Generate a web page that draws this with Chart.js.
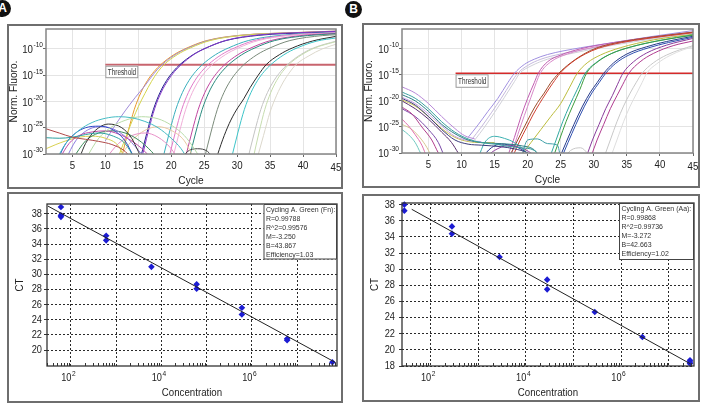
<!DOCTYPE html>
<html><head><meta charset="utf-8">
<script src="https://cdn.jsdelivr.net/npm/chart.js@4.4.1/dist/chart.umd.min.js"></script>
<style>
html,body{margin:0;padding:0;background:#fff;width:705px;height:405px;overflow:hidden;position:relative;}
.box{position:absolute;border:2px solid #6e6e6e;box-sizing:border-box;}
canvas{position:absolute;}
.tag{position:absolute;width:17px;height:17px;border-radius:50%;background:#111;color:#fff;font:bold 12px "Liberation Sans",Arial,sans-serif;text-align:center;line-height:17px;}
</style></head><body>
<div class="tag" style="left:-6px;top:0px">A</div>
<div class="tag" style="left:345px;top:1px">B</div>
<script>
// ================= DATA =================
// Amplification plots: points are [cycle, log10(Norm. Fluoro.)]
const cycleTicks = [5,10,15,20,25,30,35,40,45];
const fluoTicks = [-30,-25,-20,-15,-10];
const thresholdA = [10, 45, -13];     // start cycle, end cycle, log level
const thresholdB = [9.1, 45, -14.7];

// Panel A – rising curves
const A_orange = [[12.4,-31],[13.4,-26],[14.4,-21.5],[15.4,-18.3],[16.4,-16],[17.4,-14.3],[18.4,-13],[20.4,-11.1],[22.4,-9.8],[25.4,-8.4],[30.4,-7.4],[38.4,-6.9],[45,-6.6]];
const A_lavender = [[10,-27.5],[11.5,-24.5],[13,-21.8],[14.5,-19.3],[16,-17],[17.3,-14.8],[18.6,-13],[20.6,-11.1],[22.6,-9.8],[25.6,-8.4],[30.6,-7.4],[38.6,-6.9],[45,-6.6]];
const A_yellow = [[12,-30.5],[13.5,-25.5],[15,-21],[16,-18.5],[17,-16.2],[18,-14.3],[18.9,-13],[20.9,-11.1],[22.9,-9.8],[25.9,-8.4],[30.9,-7.4],[38.9,-6.9],[45,-6.7]];
const A_navy = [[15.3,-31],[16.3,-26],[17.3,-21.5],[18.3,-18.3],[19.3,-16],[20.3,-14.3],[21.3,-13],[23.3,-11.1],[25.3,-9.8],[28.3,-8.4],[33.3,-7.4],[41.3,-6.9],[45,-6.75]];
const A_violet = [[15.5,-31],[16.5,-25.8],[17.5,-21.3],[18.5,-18.2],[19.5,-16],[20.5,-14.3],[21.5,-13],[23.5,-11],[25.5,-9.7],[28.5,-8.3],[33.5,-7.3],[41.5,-6.8],[45,-6.65]];
const A_teal = [[18.7,-31],[19.7,-26],[20.7,-21.5],[21.7,-18.3],[22.7,-16],[23.7,-14.3],[24.7,-13],[26.7,-11.1],[28.7,-9.8],[31.7,-8.4],[36.7,-7.4],[45,-6.85]];
const A_pink = [[19.6,-31],[20.6,-26],[21.6,-21.5],[22.6,-18.3],[23.6,-16],[24.6,-14.3],[25.6,-13],[27.6,-11.1],[29.6,-9.8],[32.6,-8.4],[37.6,-7.4],[45,-6.9]];
const A_lightPink = [[20.2,-31],[21.2,-26],[22.2,-21.5],[23.2,-18.3],[24.2,-16],[25.2,-14.3],[26.2,-13],[28.2,-11.1],[30.2,-9.8],[33.2,-8.4],[38.2,-7.4],[45,-6.95]];
const A_magenta = [[22.1,-31],[23.1,-26],[24.1,-21.5],[25.1,-18.3],[26.1,-16],[27.1,-14.3],[28.1,-13],[30.1,-11.1],[32.1,-9.8],[35.1,-8.4],[40.1,-7.4],[45,-7.05]];
const A_darkTeal = [[22.7,-31],[23.7,-26],[24.7,-21.5],[25.7,-18.3],[26.7,-16],[27.7,-14.3],[28.7,-13],[30.7,-11.1],[32.7,-9.8],[35.7,-8.4],[40.7,-7.45],[45,-7.1]];
const A_gray = [[25,-31],[26,-26],[27,-21.5],[28,-18.3],[29,-16],[30,-14.3],[31,-13],[33,-11.1],[35,-9.8],[38,-8.4],[43,-7.45],[45,-7.3]];
const A_black = [[26.8,-31],[27.8,-27.3],[28.8,-24.2],[29.8,-21.8],[31,-19.5],[32,-17.3],[33.2,-15],[34.4,-13],[36.4,-11.1],[38.4,-9.8],[41.4,-8.5],[45,-7.6]];
const A_cyan = [[29.1,-31],[30.1,-26],[31.1,-21.5],[32.1,-18.3],[33.1,-16],[34.1,-14.3],[35.1,-13],[37.1,-11.1],[39.1,-9.8],[42.1,-8.5],[45,-7.9]];
const A_lightGray = [[31.6,-31],[32.6,-26],[33.6,-21.5],[34.6,-18.3],[35.6,-16],[36.6,-14.3],[37.6,-13],[39.6,-11.1],[41.6,-9.8],[45,-8.5]];
const A_lightGreen = [[32.4,-31],[33.3,-26],[34.2,-21.5],[35.1,-18.3],[36,-16],[36.9,-14.3],[37.8,-13],[39.8,-11.1],[41.8,-9.8],[45,-8.6]];
const A_pale = [[33,-31],[34,-26.5],[35,-22],[36,-18.8],[37,-16.3],[38,-14.4],[38.9,-13],[40.9,-11.3],[42.9,-10],[45,-9.1]];
// Panel A – baseline humps
const A_hRed = [[1,-25.2],[3,-26],[5,-26.8],[7,-27.2],[9,-27.6],[11,-28.2],[13,-29.5],[14,-31]];
const A_hTeal = [[1,-26.9],[3,-27],[5,-26.8],[7,-26.3],[9,-26],[11,-26.5],[13,-28],[14.5,-31]];
const A_hCyan = [[2.6,-31],[4,-28],[6,-25.5],[8,-24],[10,-23.2],[12,-22.9],[14,-23.1],[16,-23.8],[18,-25],[20,-27],[21.5,-29],[22.5,-31]];
const A_hLightGreen = [[7,-31],[9,-27],[11,-24.8],[13,-23.6],[15.5,-22.9],[18,-23.3],[20,-24.5],[22,-26.5],[23.5,-29],[24.5,-31]];
const A_hBlue = [[2.8,-31],[4,-28],[5.5,-26],[7,-25],[9,-24.7],[11,-25.3],[13,-27.5],[14.5,-31]];
const A_hBlack = [[6,-31],[7,-28],[8.5,-25.5],[10.5,-24.3],[12.5,-25],[14,-27],[15,-29.5],[15.6,-31]];
const A_hMagenta = [[3,-31],[4.5,-28],[6,-26.5],[8,-25.8],[10,-25.6],[12,-26.2],[14,-27.5],[16,-29.5],[17,-31]];
const A_hLilac = [[4,-31],[5.5,-27.5],[7.5,-25.3],[9.5,-24.8],[11.5,-25.4],[13.5,-27.2],[15.5,-30],[16.2,-31]];
const A_hGreen = [[5,-31],[7,-27.5],[9,-26],[11,-25.6],[13,-26],[15,-27.3],[17,-29.5],[18,-31]];
const A_hYellow = [[1,-29],[2.5,-28.2],[4,-27.5],[6,-26.8],[8,-26.6],[10,-27],[12,-28.5],[13,-31]];
const A_hPink = [[10,-31],[12,-28],[14,-26.5],[16,-26],[18,-26.8],[20,-29],[21,-31]];
const A_hSand = [[12,-31],[14,-27.5],[16,-25.5],[18,-24.8],[20,-25.5],[22,-27.5],[23.5,-31]];
const A_hDark = [[21.5,-31],[22.5,-29.5],[24,-29],[25.5,-29.5],[26.5,-31]];

// Panel B – descending starts and baseline humps
const B_dLilac = [[1,-17.3],[3,-18.5],[5,-20.5],[7,-23],[9,-25.3],[10.5,-26.7],[12,-27.3]];
const B_dTeal = [[1,-18.3],[3,-19.5],[5,-21.5],[7,-24],[9,-26],[11,-27.3],[13,-28],[15,-28.3],[17,-28.7],[19,-29],[21,-29.5],[22,-31]];
const B_dDarkTeal = [[1,-18.8],[3,-20],[5,-22],[7,-24.5],[9,-26.3],[11,-27.5],[13,-28],[16,-28.2],[19,-28.6],[21,-29.4],[22,-31]];
const B_dLavender = [[1,-19.3],[3,-20.5],[5,-22.5],[7,-24.8],[9,-26.8],[11,-27.6],[13,-27.8]];
const B_dNavy = [[1,-19.5],[3,-20.8],[5,-23],[7,-25.5],[9,-27.5],[11,-28.3],[13,-28.5],[16,-28.8],[18,-29.2],[20,-30],[21,-31]];
const B_dYellow = [[1,-19.8],[3,-21],[5,-23],[7,-25.3],[9,-27],[11,-27.8],[13,-28],[15,-28]];
const B_dPlum = [[1,-20],[3,-21.5],[5,-23.5],[7,-26],[8.5,-28],[9.5,-30],[10,-31]];
const B_dMagenta = [[1,-21.2],[2.5,-22.5],[4,-25],[5.5,-27.5],[6.5,-30],[7,-31]];
const B_dPurple = [[1,-21.5],[3,-23],[5,-25.5],[6.5,-28],[7.5,-31]];
const B_dPink = [[1,-23.5],[2,-24.8],[3,-26.5],[4,-28.5],[4.8,-31]];
const B_dSand = [[1,-24.5],[2.5,-25.5],[4,-27.5],[5,-29.5],[5.5,-31]];
const B_dMint = [[1,-25.5],[2,-26.5],[3,-28],[3.8,-30],[4.2,-31]];
const B_hTeal = [[12.5,-31],[13.5,-28],[15,-26.8],[16.5,-27.2],[18,-28],[19.5,-29.5],[20.5,-31]];
const B_hPurple = [[13.5,-31],[15,-29.5],[17,-28.6],[19,-29],[20.5,-30],[21.5,-31]];
const B_hNavy = [[13,-31],[14.5,-29],[16,-28.3],[18,-28.7],[20,-30],[21,-31]];
const B_hTealDash = [[19,-31],[20,-27.5],[21.5,-27.3],[23,-28.2],[24.5,-28.5],[25,-31]];
const B_hGray = [[25.5,-31],[26.5,-29.5],[28,-29],[29,-30],[29.5,-31]];
// Panel B – rising curves
const B_lavender = [[11,-27],[12.5,-24.6],[14,-22],[15.5,-19.5],[17,-16.5],[18,-14.7],[19.5,-13],[21,-12],[23,-11.1],[28,-9.8],[33,-8.8],[39,-7.6],[45,-6.5]];
const B_lilacGray = [[11.5,-27.5],[13,-25],[14.5,-22.3],[16,-19.5],[17.5,-16.5],[18.5,-14.7],[20,-13.2],[22,-12],[25,-11],[30,-9.8],[36,-8.5],[45,-6.9]];
const B_lightGray1 = [[12,-27.5],[13.5,-25],[15,-22.2],[16.5,-19.3],[18,-16.3],[18.8,-14.7],[20.5,-13.3],[23,-12],[27,-10.8],[33,-9.3],[45,-7.0]];
const B_magenta = [[17,-30.5],[18,-27],[19,-23],[20,-19.5],[21,-16.5],[21.6,-14.7],[23,-12.5],[25,-11.2],[28,-10],[33,-8.8],[39,-7.7],[45,-6.8]];
const B_pink = [[17.5,-30.5],[18.5,-26.5],[19.5,-22.8],[20.5,-19.3],[21.3,-16.5],[21.9,-14.7],[23.5,-12.5],[26,-11],[30,-9.7],[36,-8.3],[45,-6.9]];
const B_brown = [[17.5,-30],[18.5,-27.5],[19.5,-25],[20.5,-22.5],[21.5,-20.3],[22.5,-18.5],[23.5,-16.5],[24.7,-14.7],[26.5,-12.7],[28.5,-11],[30.5,-9.8],[34,-8.7],[38,-7.9],[45,-6.8]];
const B_red = [[17.8,-30.5],[18.8,-27.7],[19.8,-25.2],[20.8,-22.7],[21.8,-20.5],[22.8,-18.5],[23.8,-16.6],[24.9,-14.7],[26.7,-12.6],[28.7,-11],[30.7,-9.9],[34.2,-8.8],[38.2,-8],[45,-6.9]];
const B_yellowGreen = [[19,-30.5],[20.5,-28],[22,-25.5],[23.5,-23],[25,-20.5],[26.3,-17.5],[27.5,-14.7],[29,-12.7],[31,-11.2],[34,-9.8],[39,-8.3],[45,-7.2]];
const B_teal = [[23.3,-31],[24.3,-27.5],[25.3,-24],[26.3,-21],[27.5,-17.8],[28.7,-14.7],[30.5,-12.5],[32.5,-11],[35.5,-9.7],[40,-8.4],[45,-7.3]];
const B_green = [[23.8,-31],[24.8,-27.5],[25.8,-24],[26.8,-21],[27.9,-17.8],[28.9,-14.7],[30.7,-12.4],[32.7,-10.9],[35.7,-9.6],[40,-8.4],[45,-7.4]];
const B_navy = [[24.8,-31],[25.8,-28],[27,-24.5],[28.3,-21],[29.5,-18.3],[30.5,-16.5],[31.5,-14.7],[33,-12.7],[35,-11],[38,-9.6],[41,-8.6],[45,-7.6]];
const B_blue = [[25.1,-31],[26.1,-28],[27.3,-24.5],[28.6,-21],[29.8,-18.3],[30.8,-16.5],[31.8,-14.7],[33.3,-12.8],[35.3,-11.2],[38.3,-9.8],[41.3,-8.8],[45,-7.8]];
const B_purple = [[28.8,-31],[29.8,-27.5],[30.8,-24.5],[31.8,-21.5],[32.8,-19],[33.6,-16.8],[34.4,-14.7],[36,-12.5],[38,-10.8],[41,-9.3],[45,-8.0]];
const B_magenta2 = [[29.5,-31],[30.5,-27.5],[31.5,-24.5],[32.5,-21.5],[33.5,-19],[34.4,-16.8],[35.3,-14.7],[37,-12.5],[39,-10.9],[42,-9.4],[45,-8.5]];
const B_lightGray2 = [[31.5,-31],[32.5,-27.5],[33.5,-24],[34.5,-21],[35.5,-18.5],[36.4,-16.5],[37.3,-14.7],[39,-12.7],[41,-11.2],[43,-10.2],[45,-9.4]];
const B_pale = [[32.5,-31],[33.5,-27.5],[34.5,-24],[35.5,-21],[36.5,-18.5],[37.3,-16.5],[38,-14.7],[39.5,-12.9],[41.5,-11.3],[43.5,-10.2],[45,-9.6]];

// Standard curves
const concA = [60,60,60,600,600,6000,60000,60000,600000,600000,6000000,6000000,60000000];
const ctA   = [38.9,37.8,37.6,35.1,34.5,31.0,28.7,28.1,25.6,24.7,21.5,21.3,18.4];
const fitA = [-3.250, 43.867];           // M, B
const fitRangeA = [31, 7.1e7];
const statsA = ['Cycling A. Green (Fn):','R=0.99788','R^2=0.99576','M=-3.250','B=43.867','Efficiency=1.03'];
const concB = [28,28,280,280,2800,28000,28000,280000,2800000,28000000,28000000,28000000];
const ctB   = [38.0,37.25,35.3,34.4,31.5,28.7,27.5,24.7,21.6,18.7,18.5,18.3];
const fitB = [-3.272, 42.663];
const fitRangeB = [40, 2.9e7];
const statsB = ['Cycling A. Green (Aa):','R=0.99868','R^2=0.99736','M=-3.272','B=42.663','Efficiency=1.02'];
const ctTicksA = [20,22,24,26,28,30,32,34,36,38];
const ctTicksB = [18,20,22,24,26,28,30,32,34,36,38];
const decadeTicks = [1e2,1e3,1e4,1e5,1e6,1e7];
const decadeLabels = [2,4,6];

// ================= STYLE / LAYOUT =================
const seriesA = [A_hRed,A_hTeal,A_hCyan,A_hLightGreen,A_hBlue,A_hBlack,A_hMagenta,A_hLilac,A_hGreen,A_hYellow,A_hPink,A_hSand,A_hDark,
  A_pale,A_lightGreen,A_lightGray,A_cyan,A_black,A_gray,A_darkTeal,A_magenta,A_lightPink,A_pink,A_teal,A_violet,A_navy,A_yellow,A_lavender,A_orange];
const colorsA = ['#b04a4a','#2aa0a0','#44bcc4','#b8dca8','#3048c8','#333333','#c04aa8','#8a7ae0','#3c8c5a','#d8d050','#e890c8','#e8c8a0','#444444',
  '#dcd8cc','#c6dcae','#c4c4c4','#3cc4c8','#2a2a2a','#7a8a7a','#2a8a7e','#c046a0','#f0aed8','#e07ac8','#38aebc','#8236c8','#22228c','#d4d44a','#a08ad8','#e8962a'];
const seriesB = [B_dLilac,B_dTeal,B_dDarkTeal,B_dLavender,B_dNavy,B_dYellow,B_dPlum,B_dMagenta,B_dPurple,B_dPink,B_dSand,B_dMint,
  B_hTeal,B_hPurple,B_hNavy,B_hTealDash,B_hGray,
  B_pale,B_lightGray2,B_magenta2,B_purple,B_blue,B_navy,B_green,B_teal,B_yellowGreen,B_red,B_brown,B_pink,B_magenta,B_lightGray1,B_lilacGray,B_lavender];
const colorsB = ['#b888d8','#3aa0a0','#2c7e84','#c8a0e0','#3a3a7a','#c8c050','#5a2e6e','#b03c8c','#7a4aa8','#e070b0','#d8c890','#70c8c0',
  '#3ab0b0','#9040a0','#2a3a90','#40a0a8','#c8c8c8',
  '#dedede','#c8c8c8','#b03c90','#8a3c9c','#3050b0','#263a8a','#3c9c3c','#30a8a0','#bcbc3c','#d04030','#9a4a28','#d888c8','#c05cb0','#d0d0d8','#c4b8dc','#a090e0'];

const LAYOUT = {
  ampA: {x:7, y:24, w:336, h:165, l:46, t:29, r:336, b:154},
  ampB: {x:362, y:23, w:338, h:165, l:402, t:29, r:693, b:153},
  stdA: {x:7, y:192, w:336, h:211, l:47, t:204, r:337, b:366},
  stdB: {x:362, y:194, w:338, h:208, l:402, t:203, r:694, b:366}
};
const FONT = '"Liberation Sans", Arial, sans-serif';
const SX = 0.88;

function txt(ctx, s, x, y, size, align, o) {
  o = o || {};
  ctx.save();
  ctx.font = size + 'px ' + FONT;
  ctx.fillStyle = o.color || '#222';
  ctx.textBaseline = 'middle';
  ctx.textAlign = align || 'left';
  ctx.translate(x, y);
  if (o.rot) ctx.rotate(o.rot);
  ctx.scale(o.sx || SX, 1);
  ctx.fillText(s, 0, 0);
  ctx.restore();
}
function tw(ctx, s, size, sx) {
  ctx.save(); ctx.font = size + 'px ' + FONT;
  const w = ctx.measureText(s).width * (sx || SX);
  ctx.restore(); return w;
}
function pow10(ctx, exp, x, y, bs, ss, anchor) {
  const e = String(exp);
  const w1 = tw(ctx, '10', bs), w2 = tw(ctx, e, ss);
  const x0 = anchor === 'right' ? x - w1 - w2 - 0.5 : x - w1;
  txt(ctx, '10', x0, y, bs, 'left');
  txt(ctx, e, x0 + w1 + 0.5, y - bs * 0.42, ss, 'left');
}
function setup(L) {
  const d = document.createElement('div');
  d.className = 'box';
  Object.assign(d.style, {left: L.x + 'px', top: L.y + 'px', width: L.w + 'px', height: L.h + 'px'});
  document.body.appendChild(d);
  const c = document.createElement('canvas');
  c.width = L.w; c.height = L.h;
  Object.assign(c.style, {left: L.x + 'px', top: L.y + 'px', width: L.w + 'px', height: L.h + 'px'});
  document.body.appendChild(c);
  return c;
}
function baseOpts(L) {
  return {
    responsive: false, maintainAspectRatio: false, animation: false, devicePixelRatio: 1, events: [],
    layout: {autoPadding: false, padding: {left: 0, bottom: 0, top: L.t - L.y, right: L.x + L.w - L.r}},
    plugins: {legend: {display: false}, tooltip: {enabled: false}}
  };
}

function ampChart(L, series, colors, thr, thrColor, thrWidth, boxH) {
  const cv = setup(L);
  const ds = series.map((s, i) => ({
    data: s.map(p => ({x: p[0], y: p[1]})), borderColor: colors[i], borderWidth: 1,
    showLine: true, pointRadius: 0, cubicInterpolationMode: 'monotone', fill: false
  }));
  ds.push({data: [{x: thr[0], y: thr[2]}, {x: thr[1], y: thr[2]}], borderColor: thrColor, borderWidth: thrWidth, showLine: true, pointRadius: 0});
  const o = baseOpts(L);
  o.scales = {
    x: {type: 'linear', position: 'bottom', min: 1, max: 45,
      afterBuildTicks: s => { s.ticks = cycleTicks.map(v => ({value: v})); },
      afterFit: s => { s.height = L.y + L.h - L.b; },
      ticks: {display: false},
      grid: {color: '#e4e4e4', lineWidth: 1, drawTicks: true, tickLength: 3, tickColor: '#666'},
      border: {display: false}},
    y: {type: 'linear', position: 'left', min: -30, max: -6.2,
      afterBuildTicks: s => { s.ticks = fluoTicks.map(v => ({value: v})); },
      afterFit: s => { s.width = L.l - L.x; },
      ticks: {display: false},
      grid: {color: '#e4e4e4', lineWidth: 1, drawTicks: true, tickLength: 3, tickColor: '#666'},
      border: {display: false}}
  };
  const deco = {
    id: 'ampDeco',
    afterDraw(chart) {
      const {ctx, chartArea: a, scales: {x, y}} = chart;
      ctx.save(); ctx.strokeStyle = '#858585'; ctx.lineWidth = 1.5;
      ctx.strokeRect(a.left, a.top, a.right - a.left, a.bottom - a.top); ctx.restore();
      fluoTicks.forEach(v => pow10(ctx, v, a.left - 3, y.getPixelForValue(v) + 1, 11, 7.5, 'right'));
      cycleTicks.forEach((v, i) => txt(ctx, String(v), x.getPixelForValue(v), a.bottom + 11.5 + (i === cycleTicks.length - 1 ? 2 : 0), 11, 'center'));
      txt(ctx, 'Cycle', (a.left + a.right) / 2, a.bottom + 27, 11.5, 'center');
      txt(ctx, 'Norm. Fluoro.', 6.5, (a.top + a.bottom) / 2, 11.5, 'center', {rot: -Math.PI / 2});
      const bx = x.getPixelForValue(thr[0]), by = y.getPixelForValue(thr[2]) + 1;
      ctx.save();
      ctx.fillStyle = '#fff'; ctx.fillRect(bx, by, 33, boxH);
      ctx.strokeStyle = '#9a9a9a'; ctx.lineWidth = 1; ctx.strokeRect(bx + 0.5, by + 0.5, 32, boxH - 1);
      ctx.restore();
      txt(ctx, 'Threshold', bx + 2.5, by + boxH / 2 + 0.5, 8.5, 'left', {sx: 0.75, color: '#333'});
    }
  };
  new Chart(cv, {type: 'scatter', data: {datasets: ds}, options: o, plugins: [deco]});
}

function stdChart(L, conc, ct, fit, fitRange, xr, yr, yTicks, stats, gap, statW, statH) {
  const cv = setup(L);
  const pts = conc.map((c, i) => ({x: c, y: ct[i]}));
  const line = fitRange.map(c => ({x: c, y: fit[0] * Math.log10(c) + fit[1]}));
  const ds = [
    {data: line, showLine: true, borderColor: '#222', borderWidth: 1, pointRadius: 0},
    {data: pts, pointStyle: 'rectRot', pointRadius: 3.3, backgroundColor: '#1c1cd2', borderColor: '#1c1cd2', borderWidth: 0, clip: 6}
  ];
  const o = baseOpts(L);
  o.scales = {
    x: {type: 'logarithmic', position: 'bottom', min: xr[0], max: xr[1],
      afterBuildTicks: s => { s.ticks = decadeTicks.map(v => ({value: v})); },
      afterFit: s => { s.height = L.y + L.h - L.b; },
      ticks: {display: false},
      grid: {color: '#2a2a2a', lineWidth: 1, drawTicks: false},
      border: {display: false, dash: [2, 2]}},
    y: {type: 'linear', position: 'left', min: yr[0], max: yr[1],
      afterBuildTicks: s => { s.ticks = yTicks.map(v => ({value: v})); },
      afterFit: s => { s.width = L.l - L.x; },
      ticks: {display: false},
      grid: {color: '#2a2a2a', lineWidth: 1, drawTicks: true, tickLength: 3, tickColor: '#333', tickBorderDash: []},
      border: {display: false, dash: [2, 2]}}
  };
  const deco = {
    id: 'stdDeco',
    afterDraw(chart) {
      const {ctx, chartArea: a, scales: {x, y}} = chart;
      ctx.save(); ctx.strokeStyle = '#333'; ctx.lineWidth = 1.3;
      ctx.strokeRect(a.left, a.top, a.right - a.left, a.bottom - a.top);
      ctx.lineWidth = 1;
      for (let d = 0; d < 9; d++) for (let m = 2; m < 10; m++) {
        const v = m * Math.pow(10, d);
        if (v <= xr[0] || v >= xr[1]) continue;
        const px = Math.round(x.getPixelForValue(v)) + 0.5;
        ctx.beginPath(); ctx.moveTo(px, a.bottom); ctx.lineTo(px, a.bottom - 3); ctx.stroke();
      }
      ctx.restore();
      yTicks.forEach(v => txt(ctx, String(v), a.left - gap, y.getPixelForValue(v), 10.5, 'right'));
      decadeLabels.forEach(e => pow10(ctx, e, x.getPixelForValue(Math.pow(10, e)) + 0.5, a.bottom + 12.5, 10.5, 7.5, 'tick'));
      txt(ctx, 'Concentration', (a.left + a.right) / 2, a.bottom + 27, 11, 'center');
      txt(ctx, 'CT', 13, (a.top + a.bottom) / 2, 11, 'center', {rot: -Math.PI / 2});
      const bx = a.right - statW, by = a.top;
      ctx.save();
      ctx.fillStyle = '#fff'; ctx.fillRect(bx, by, statW, statH);
      ctx.strokeStyle = '#444'; ctx.lineWidth = 1; ctx.strokeRect(bx + 0.5, by + 0.5, statW - 1, statH - 1);
      ctx.restore();
      stats.forEach((s, i) => txt(ctx, s, bx + 2.5, by + 5.8 + i * 9.1, 7.5, 'left', {sx: 0.93, color: '#333'}));
    }
  };
  new Chart(cv, {type: 'scatter', data: {datasets: ds}, options: o, plugins: [deco]});
}

ampChart(LAYOUT.ampA, seriesA, colorsA, thresholdA, '#c8646e', 2, 12.5);
ampChart(LAYOUT.ampB, seriesB, colorsB, thresholdB, '#d42a2a', 1.5, 13.5);
stdChart(LAYOUT.stdA, concA, ctA, fitA, fitRangeA, [29.5, 7.6e7], [17.9, 39.3], ctTicksA, statsA, 5, 73.5, 55.5);
stdChart(LAYOUT.stdB, concB, ctB, fitB, fitRangeB, [25, 3.4e7], [18, 38.2], ctTicksB, statsB, 7, 75, 57);
</script>
</body></html>
